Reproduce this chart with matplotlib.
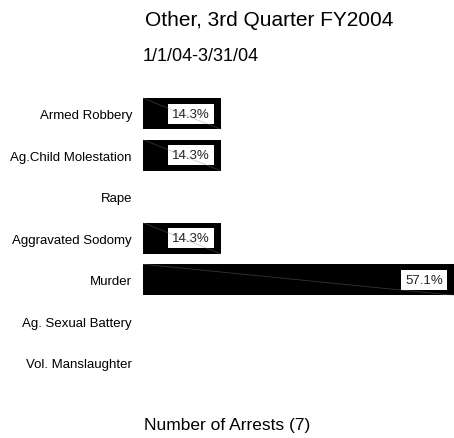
import matplotlib.pyplot as plt
import numpy as np

plt.rcParams['font.family'] = ['Liberation Sans', 'DejaVu Sans']

# data
categories = ['Armed Robbery', 'Ag.Child Molestation', 'Rape', 'Aggravated Sodomy',
              'Murder', 'Ag. Sexual Battery', 'Vol. Manslaughter']
arrests = [1, 1, 0, 1, 4, 0, 0]
total = sum(arrests)


def main():
    fig = plt.figure(figsize=(4.54, 4.39), dpi=100)
    ax = fig.add_axes([0.315, 0.124, 0.685, 0.662])

    y = np.arange(len(categories))
    bar_h = 0.75
    ax.barh(y, arrests, height=bar_h, color='black', zorder=1)

    for yi, v in zip(y, arrests):
        if v == 0:
            continue
        ax.annotate(f'{100 * v / total:.1f}%', xy=(v, yi), xytext=(-8, 0),
                    textcoords='offset points', ha='right', va='center',
                    fontsize=9.5, color='#222222', zorder=2,
                    bbox=dict(boxstyle='square,pad=0.3', fc='white', ec='none'))
        # faint diagonal line seen across each bar
        ax.plot([0, v], [yi - bar_h / 2, yi + bar_h / 2], color='#808080',
                alpha=0.4, lw=0.6, zorder=3)

    ax.set_xlim(0, max(arrests))
    ax.set_ylim(len(categories) - 0.5, -0.5)
    ax.set_yticks(y)
    ax.set_yticklabels(categories, fontsize=9.5)
    ax.set_xticks([])
    ax.tick_params(axis='y', length=0, pad=8)
    for s in ax.spines.values():
        s.set_visible(False)

    fig.text(0.594, 0.953, 'Other, 3rd Quarter FY2004', ha='center', va='center', fontsize=15)
    fig.text(0.315, 0.872, '1/1/04-3/31/04', ha='left', va='center', fontsize=13)
    fig.text(0.5, 0.03, f'Number of Arrests ({total})', ha='center', va='center', fontsize=12.5)

    fig.savefig('out.png', dpi=100)


if __name__ == "__main__":
    main()
